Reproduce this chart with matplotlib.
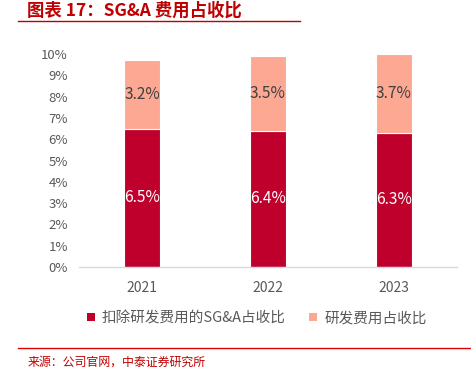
import matplotlib
matplotlib.use("Agg")
import matplotlib.pyplot as plt
from matplotlib.lines import Line2D
from matplotlib.patches import Patch

years = ["2021", "2022", "2023"]
sga_ex_rd = [6.5, 6.4, 6.3]
rd = [3.2, 3.5, 3.7]
yticks = [0, 1, 2, 3, 4, 5, 6, 7, 8, 9, 10]
series_names = ["扣除研发费用的SG&A占收比", "研发费用占收比"]
title = "图表 17：SG&A 费用占收比"
source = "来源：公司官网，中泰证券研究所"

c_dark = "#C0002C"
c_light = "#FCA892"
grey = "#595959"

plt.rcParams['font.family'] = ['Liberation Sans Narrow', 'Noto Sans CJK SC', 'DejaVu Sans']

fig = plt.figure(figsize=(4.71, 3.72), dpi=100)
ax = fig.add_axes([0.168, 0.282, 0.802, 0.573])

x = list(range(len(years)))
w = 0.28
ax.bar(x, sga_ex_rd, width=w, color=c_dark, edgecolor="white", linewidth=0.8)
ax.bar(x, rd, width=w, bottom=sga_ex_rd, color=c_light, edgecolor="white", linewidth=0.8)

for i in x:
    ax.text(i, sga_ex_rd[i] / 2, f"{sga_ex_rd[i]:.1f}%", ha="center", va="center",
            color="white", fontsize=11.2)
    ax.text(i, sga_ex_rd[i] + rd[i] / 2, f"{rd[i]:.1f}%", ha="center", va="center",
            color="#404040", fontsize=11.2)

ax.set_xlim(-0.5, 2.5)
ax.set_ylim(0, 10)
ax.set_yticks(yticks)
ax.set_yticklabels([f"{t}%" for t in yticks], color=grey, fontsize=9.5)
ax.set_xticks(x)
ax.set_xticklabels(years, color=grey, fontsize=10)
ax.tick_params(axis="both", length=0, pad=8)
ax.tick_params(axis="x", pad=10)
for s in ["top", "right", "left"]:
    ax.spines[s].set_visible(False)
ax.spines["bottom"].set_color("#D9D9D9")
ax.spines["bottom"].set_linewidth(1)

handles = [Patch(facecolor=c_dark), Patch(facecolor=c_light)]
leg = fig.legend(handles, series_names, loc="center", bbox_to_anchor=(0.545, 0.145),
                 ncol=2, frameon=False, handlelength=0.55, handleheight=0.55,
                 columnspacing=1.6, handletextpad=0.5,
                 prop={'family': ['Noto Sans CJK SC', 'DejaVu Sans'], 'size': 10.5})
for t in leg.get_texts():
    t.set_color(grey)

fig.text(0.058, 0.972, title, color="#C00000", fontsize=12.5, fontweight="heavy",
         ha="left", va="center", family=['Noto Sans CJK SC', 'DejaVu Sans'], style="italic")
fig.add_artist(Line2D([0.038, 0.637], [0.944, 0.944], color="#C00000", linewidth=1))
fig.add_artist(Line2D([0.038, 1.0], [0.065, 0.065], color="#E00000", linewidth=1))
fig.text(0.058, 0.027, source, color="#C00000", fontsize=8.6,
         ha="left", va="center", family=['Noto Sans CJK SC', 'DejaVu Sans'])

fig.savefig("out.png", dpi=100)
